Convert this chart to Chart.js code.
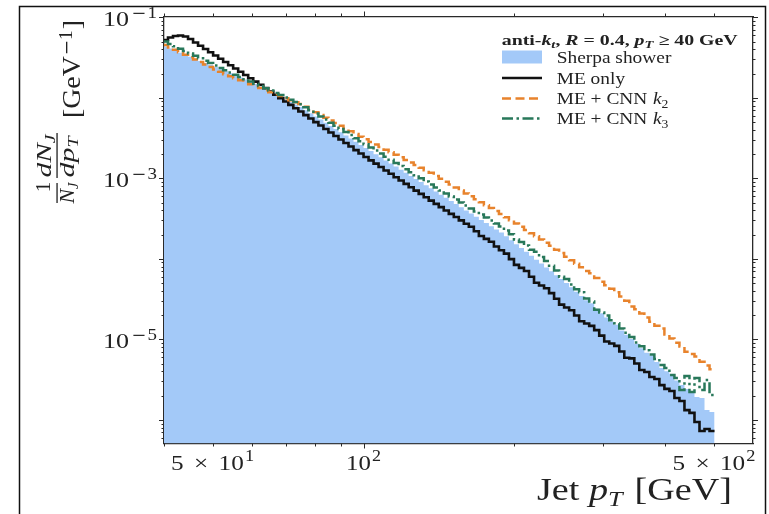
<!DOCTYPE html>
<html>
<head>
<meta charset="utf-8">
<script src="https://cdn.jsdelivr.net/npm/chart.js@4.4.1/dist/chart.umd.min.js"></script>
<style>
  html, body { margin: 0; padding: 0; background: #fff; overflow: hidden; }
  #wrap { width: 769px; height: 514px; position: relative; }
</style>
</head>
<body>
<div id="wrap"><canvas id="c" width="769" height="514"></canvas></div>
<script>
// Jet pT histogram bin edges [GeV] (logarithmic binning, 110 bins)
const binEdges = [
  39.81, 40.74, 41.69, 42.66, 43.65, 44.67, 45.71, 46.77, 47.86, 48.98,
  50.12, 51.29, 52.48, 53.70, 54.95, 56.23, 57.54, 58.88, 60.26, 61.66,
  63.10, 64.57, 66.07, 67.61, 69.18, 70.79, 72.44, 74.13, 75.86, 77.62,
  79.43, 81.28, 83.18, 85.11, 87.10, 89.13, 91.20, 93.33, 95.50, 97.72,
  100.00, 102.33, 104.71, 107.15, 109.65, 112.20, 114.82, 117.49, 120.23, 123.03,
  125.89, 128.82, 131.83, 134.90, 138.04, 141.25, 144.54, 147.91, 151.36, 154.88,
  158.49, 162.18, 165.96, 169.82, 173.78, 177.83, 181.97, 186.21, 190.55, 194.98,
  199.53, 204.17, 208.93, 213.80, 218.78, 223.87, 229.09, 234.42, 239.88, 245.47,
  251.19, 257.04, 263.03, 269.15, 275.42, 281.84, 288.40, 295.12, 301.99, 309.03,
  316.23, 323.59, 331.13, 338.84, 346.74, 354.81, 363.08, 371.54, 380.19, 389.05,
  398.11, 407.38, 416.87, 426.58, 436.52, 446.68, 457.09, 467.74, 478.63, 489.78,
  501.19
];

// 1/N_J dN_J/dpT [GeV^-1] per bin
const sherpaShower = [
  4.34e-2, 4.09e-2, 3.86e-2, 3.64e-2, 3.43e-2, 3.23e-2, 3.05e-2, 2.87e-2, 2.71e-2, 2.55e-2,
  2.41e-2, 2.27e-2, 2.14e-2, 2.02e-2, 1.90e-2, 1.79e-2, 1.69e-2, 1.59e-2, 1.48e-2, 1.38e-2,
  1.28e-2, 1.19e-2, 1.11e-2, 1.03e-2, 9.56e-3, 8.89e-3, 8.26e-3, 7.68e-3, 7.02e-3, 6.41e-3,
  5.86e-3, 5.36e-3, 4.89e-3, 4.47e-3, 4.09e-3, 3.74e-3, 3.41e-3, 3.12e-3, 2.85e-3, 2.60e-3,
  2.38e-3, 2.18e-3, 1.99e-3, 1.82e-3, 1.67e-3, 1.53e-3, 1.40e-3, 1.28e-3, 1.17e-3, 1.07e-3,
  9.81e-4, 8.97e-4, 8.21e-4, 7.52e-4, 6.87e-4, 6.27e-4, 5.73e-4, 5.24e-4, 4.78e-4, 4.37e-4,
  3.99e-4, 3.65e-4, 3.33e-4, 3.04e-4, 2.78e-4, 2.54e-4, 2.32e-4, 2.12e-4, 1.90e-4, 1.70e-4,
  1.52e-4, 1.36e-4, 1.22e-4, 1.09e-4, 9.75e-5, 8.73e-5, 7.81e-5, 6.99e-5, 6.26e-5, 5.60e-5,
  5.01e-5, 4.43e-5, 3.91e-5, 3.46e-5, 3.06e-5, 2.80e-5, 2.39e-5, 2.11e-5, 1.87e-5, 1.65e-5,
  1.52e-5, 1.29e-5, 1.14e-5, 1.01e-5, 8.84e-6, 7.76e-6, 6.80e-6, 6.30e-6, 5.23e-6, 4.40e-6,
  4.02e-6, 3.70e-6, 3.09e-6, 2.71e-6, 2.42e-6, 2.15e-6, 1.92e-6, 1.87e-6, 1.32e-6, 1.25e-6
];

const meOnly = [
  5.22e-2, 5.61e-2, 5.86e-2, 5.93e-2, 5.77e-2, 5.38e-2, 4.86e-2, 4.43e-2, 4.04e-2, 3.68e-2,
  3.35e-2, 3.06e-2, 2.78e-2, 2.54e-2, 2.31e-2, 2.11e-2, 1.92e-2, 1.75e-2, 1.59e-2, 1.45e-2,
  1.32e-2, 1.20e-2, 1.09e-2, 9.90e-3, 9.00e-3, 8.17e-3, 7.43e-3, 6.75e-3, 6.10e-3, 5.53e-3,
  4.99e-3, 4.52e-3, 4.09e-3, 3.70e-3, 3.35e-3, 3.03e-3, 2.74e-3, 2.48e-3, 2.24e-3, 2.03e-3,
  1.84e-3, 1.67e-3, 1.52e-3, 1.38e-3, 1.25e-3, 1.14e-3, 1.03e-3, 9.39e-4, 8.53e-4, 7.75e-4,
  7.04e-4, 6.40e-4, 5.82e-4, 5.28e-4, 4.81e-4, 4.38e-4, 3.98e-4, 3.62e-4, 3.30e-4, 3.00e-4,
  2.73e-4, 2.50e-4, 2.20e-4, 1.92e-4, 1.77e-4, 1.63e-4, 1.42e-4, 1.28e-4, 1.16e-4, 9.92e-5,
  8.40e-5, 7.71e-5, 7.05e-5, 5.99e-5, 5.05e-5, 4.66e-5, 4.30e-5, 3.75e-5, 3.19e-5, 2.70e-5,
  2.48e-5, 2.30e-5, 1.98e-5, 1.68e-5, 1.57e-5, 1.47e-5, 1.30e-5, 1.11e-5, 9.40e-6, 8.87e-6,
  8.30e-6, 7.05e-6, 5.90e-6, 5.80e-6, 5.00e-6, 4.16e-6, 3.93e-6, 3.40e-6, 3.21e-6, 2.70e-6,
  2.42e-6, 2.28e-6, 1.87e-6, 1.71e-6, 1.32e-6, 1.22e-6, 9.39e-7, 7.26e-7, 7.69e-7, 7.26e-7
];

const meCnnK2 = [
  4.53e-2, 4.22e-2, 3.94e-2, 3.67e-2, 3.42e-2, 3.19e-2, 2.98e-2, 2.78e-2, 2.59e-2, 2.42e-2,
  2.25e-2, 2.10e-2, 1.96e-2, 1.85e-2, 1.75e-2, 1.65e-2, 1.56e-2, 1.47e-2, 1.39e-2, 1.32e-2,
  1.24e-2, 1.17e-2, 1.11e-2, 1.05e-2, 9.90e-3, 9.35e-3, 8.83e-3, 8.35e-3, 7.72e-3, 7.14e-3,
  6.61e-3, 6.12e-3, 5.66e-3, 5.24e-3, 4.85e-3, 4.49e-3, 4.15e-3, 3.84e-3, 3.56e-3, 3.29e-3,
  3.05e-3, 2.83e-3, 2.63e-3, 2.44e-3, 2.27e-3, 2.11e-3, 1.96e-3, 1.82e-3, 1.69e-3, 1.57e-3,
  1.46e-3, 1.35e-3, 1.26e-3, 1.17e-3, 1.07e-3, 9.87e-4, 9.07e-4, 8.35e-4, 7.67e-4, 7.06e-4,
  6.49e-4, 5.97e-4, 5.49e-4, 5.05e-4, 4.64e-4, 4.27e-4, 3.92e-4, 3.61e-4, 3.29e-4, 3.01e-4,
  2.74e-4, 2.50e-4, 2.28e-4, 2.08e-4, 1.90e-4, 1.74e-4, 1.58e-4, 1.45e-4, 1.30e-4, 1.18e-4,
  1.06e-4, 9.61e-5, 8.67e-5, 7.83e-5, 7.07e-5, 6.60e-5, 5.76e-5, 5.20e-5, 4.70e-5, 4.24e-5,
  3.83e-5, 3.40e-5, 3.01e-5, 2.55e-5, 2.37e-5, 2.10e-5, 1.86e-5, 1.65e-5, 1.47e-5, 1.36e-5,
  1.15e-5, 1.02e-5, 9.06e-6, 8.13e-6, 7.00e-6, 6.55e-6, 6.10e-6, 5.27e-6, 4.73e-6, 4.24e-6
];

const meCnnK3 = [
  5.00e-2, 4.67e-2, 4.36e-2, 4.07e-2, 3.80e-2, 3.55e-2, 3.32e-2, 3.10e-2, 2.89e-2, 2.70e-2,
  2.52e-2, 2.35e-2, 2.20e-2, 2.06e-2, 1.93e-2, 1.81e-2, 1.70e-2, 1.59e-2, 1.49e-2, 1.40e-2,
  1.31e-2, 1.23e-2, 1.15e-2, 1.08e-2, 1.01e-2, 9.48e-3, 8.89e-3, 8.33e-3, 7.63e-3, 6.98e-3,
  6.39e-3, 5.85e-3, 5.36e-3, 4.90e-3, 4.49e-3, 4.11e-3, 3.76e-3, 3.44e-3, 3.15e-3, 2.89e-3,
  2.64e-3, 2.42e-3, 2.21e-3, 2.03e-3, 1.85e-3, 1.70e-3, 1.55e-3, 1.42e-3, 1.30e-3, 1.19e-3,
  1.09e-3, 9.99e-4, 9.14e-4, 8.37e-4, 7.68e-4, 7.05e-4, 6.47e-4, 5.94e-4, 5.45e-4, 5.00e-4,
  4.59e-4, 4.21e-4, 3.87e-4, 3.55e-4, 3.25e-4, 2.99e-4, 2.74e-4, 2.52e-4, 2.25e-4, 2.02e-4,
  1.74e-4, 1.62e-4, 1.46e-4, 1.30e-4, 1.22e-4, 1.05e-4, 9.39e-5, 8.21e-5, 7.18e-5, 6.00e-5,
  5.60e-5, 4.80e-5, 4.20e-5, 3.85e-5, 3.21e-5, 2.95e-5, 2.33e-5, 2.15e-5, 1.98e-5, 1.72e-5,
  1.58e-5, 1.36e-5, 1.21e-5, 1.07e-5, 9.10e-6, 8.20e-6, 7.30e-6, 6.50e-6, 5.70e-6, 4.79e-6,
  4.40e-6, 3.61e-6, 3.30e-6, 2.34e-6, 3.50e-6, 2.21e-6, 3.30e-6, 2.34e-6, 3.12e-6, 2.03e-6
];

// Axis tick labels
const xTickValues = [50, 100, 500];
const xTickMantissa = ['5', '', '5'];
const xTickExponent = ['1', '2', '2'];
const yTickValues = [1e-1, 1e-3, 1e-5];
const yTickExponent = ['1', '3', '5'];

// Legend text
const legendTitle = 'anti-k_t, R = 0.4, p_T ≥ 40 GeV';
const seriesNames = ['Sherpa shower', 'ME only', 'ME + CNN', 'ME + CNN'];
const seriesSubscript = ['', '', '2', '3'];

// ---------------------------------------------------------------------------
const X_MIN = 40, X_MAX = 598;
const Y_MIN = 5.08e-7, Y_MAX = 0.1023;

const SERIF = '"Liberation Serif", "Times New Roman", serif';
const f = (size, style) => (style ? style + ' ' : '') + size + 'px ' + SERIF;

// histogram outline: one point per left bin edge plus the closing edge
function toSteps(values) {
  const pts = values.map((v, i) => ({ x: binEdges[i], y: v }));
  pts.push({ x: binEdges[values.length], y: values[values.length - 1] });
  return pts;
}

function runsWidth(ctx, runs) {
  let w = 0;
  for (const r of runs) {
    ctx.font = r.font;
    w += (r.pre || 0) + ctx.measureText(r.text).width + (r.post || 0);
  }
  return w;
}

// draws a line of mixed-font text pieces; optional target width stretches it
function drawRuns(ctx, runs, x, y, align, target) {
  const nat = runsWidth(ctx, runs);
  const k = target ? target / nat : 1;
  const w = nat * k;
  const x0 = align === 'center' ? x - w / 2 : align === 'right' ? x - w : x;
  ctx.save();
  ctx.translate(x0, y);
  ctx.scale(k, 1);
  ctx.textAlign = 'left';
  ctx.textBaseline = 'alphabetic';
  let cx = 0;
  for (const r of runs) {
    ctx.font = r.font;
    cx += r.pre || 0;
    ctx.fillText(r.text, cx, r.dy || 0);
    cx += ctx.measureText(r.text).width + (r.post || 0);
  }
  ctx.restore();
}

const decorations = {
  id: 'decorations',
  afterDraw(chart) {
    const ctx = chart.ctx;
    const area = chart.chartArea;
    const sx = chart.scales.x, sy = chart.scales.y;

    // ---- tick marks on all four sides (outward) ----
    ctx.save();
    ctx.strokeStyle = '#2a2a2a';
    ctx.lineWidth = 1;
    const xMajor = [100];
    const xMinor = [];
    for (let d = 2; d <= 9; d++) { xMinor.push(d * 10); xMinor.push(d * 100); }
    const xt = xMajor.map(v => [v, 5]).concat(xMinor.map(v => [v, 3]))
      .filter(t => t[0] >= X_MIN && t[0] <= X_MAX);
    for (const [v, len] of xt) {
      const p = Math.round(sx.getPixelForValue(v)) + 0.5;
      ctx.beginPath();
      ctx.moveTo(p, area.bottom); ctx.lineTo(p, area.bottom + len);
      ctx.moveTo(p, area.top); ctx.lineTo(p, area.top - len);
      ctx.stroke();
    }
    const yt = [];
    for (let e = -7; e <= -1; e++) {
      yt.push([Math.pow(10, e), 5]);
      for (let d = 2; d <= 9; d++) yt.push([d * Math.pow(10, e), 2.5]);
    }
    for (const [v, len] of yt) {
      if (v < Y_MIN || v > Y_MAX) continue;
      const p = Math.round(sy.getPixelForValue(v)) + 0.5;
      ctx.beginPath();
      ctx.moveTo(area.left, p); ctx.lineTo(area.left - len, p);
      ctx.moveTo(area.right, p); ctx.lineTo(area.right + len, p);
      ctx.stroke();
    }
    ctx.restore();

    ctx.save();
    ctx.fillStyle = '#222';

    // ---- x tick labels ----
    xTickValues.forEach((v, i) => {
      const px = sx.getPixelForValue(v);
      const runs = [];
      if (xTickMantissa[i]) {
        runs.push({ text: xTickMantissa[i], font: f(22) });
        runs.push({ text: '×', font: f(22), pre: 9, post: 9 });
      }
      runs.push({ text: '10', font: f(22) });
      runs.push({ text: xTickExponent[i], font: f(16), dy: -9, pre: 1 });
      drawRuns(ctx, runs, px, 469.5, 'center', xTickMantissa[i] ? 83 : 35);
    });

    // ---- y tick labels ----
    yTickValues.forEach((v, i) => {
      const py = sy.getPixelForValue(v);
      const runs = [
        { text: '10', font: f(22) },
        { text: '−', font: '15px "DejaVu Serif", serif', dy: -8, pre: 2, post: 1 },
        { text: yTickExponent[i], font: f(16), dy: -8 }
      ];
      drawRuns(ctx, runs, 157, py + 8.5, 'right', 54);
    });

    // ---- x axis title ----
    drawRuns(ctx, [
      { text: 'Jet ', font: f(32) },
      { text: 'p', font: f(32, 'italic') },
      { text: 'T', font: f(22, 'italic'), dy: 6 },
      { text: ' [GeV]', font: f(32), pre: 2 }
    ], 732, 500, 'right', 195);

    // ---- y axis title (rotated, reads bottom to top) ----
    ctx.save();
    ctx.rotate(-Math.PI / 2);
    // local (u, v) maps to page (v, -u)
    drawRuns(ctx, [{ text: '1', font: f(21) }], -187, 50, 'center');
    drawRuns(ctx, [
      { text: 'N', font: f(21, 'italic') },
      { text: 'J', font: f(14, 'italic'), dy: 4 }
    ], -193, 74, 'center', 21);
    drawRuns(ctx, [
      { text: 'dN', font: f(21, 'italic') },
      { text: 'J', font: f(14, 'italic'), dy: 4 }
    ], -156, 50.5, 'center', 43);
    drawRuns(ctx, [
      { text: 'dp', font: f(21, 'italic') },
      { text: 'T', font: f(14, 'italic'), dy: 4 }
    ], -157, 74, 'center', 41);
    drawRuns(ctx, [
      { text: '[GeV', font: f(26) },
      { text: '−', font: '17px "DejaVu Serif", serif', dy: -8, pre: 1 },
      { text: '1', font: f(18), dy: -8 },
      { text: ']', font: f(26), pre: 1 }
    ], -118, 80, 'left', 98);
    ctx.restore();
    // fraction bars
    ctx.fillRect(56.4, 183, 1.3, 20);
    ctx.fillRect(56.4, 133, 1.3, 45);

    // ---- legend ----
    const tParts = legendTitle.split(/(k_t|R|p_T)/).filter(s => s.length);
    const tRuns = [];
    for (const part of tParts) {
      if (part === 'k_t') {
        tRuns.push({ text: 'k', font: f(15, 'italic bold') });
        tRuns.push({ text: 't', font: f(11, 'italic bold'), dy: 3 });
      } else if (part === 'p_T') {
        tRuns.push({ text: 'p', font: f(15, 'italic bold') });
        tRuns.push({ text: 'T', font: f(11, 'italic bold'), dy: 3 });
      } else if (part === 'R') {
        tRuns.push({ text: 'R', font: f(15, 'italic bold') });
      } else {
        tRuns.push({ text: part, font: f(15, 'bold') });
      }
    }
    drawRuns(ctx, tRuns, 501.7, 44.5, 'left', 236);

    const rows = [57, 78, 98.5, 118.5];
    const ds = chart.data.datasets;
    rows.forEach((cy, i) => {
      const d = ds[i];
      ctx.save();
      if (i === 0) {
        ctx.fillStyle = d.backgroundColor;
        ctx.fillRect(502, cy - 6.5, 40, 13);
      } else {
        ctx.strokeStyle = d.borderColor;
        ctx.lineWidth = d.borderWidth;
        ctx.setLineDash(d.borderDash || []);
        ctx.beginPath();
        ctx.moveTo(502, cy);
        ctx.lineTo(542, cy);
        ctx.stroke();
      }
      ctx.restore();
      const runs = [{ text: seriesNames[i], font: f(17) }];
      if (seriesSubscript[i]) {
        runs.push({ text: 'k', font: f(17, 'italic'), pre: 5 });
        runs.push({ text: seriesSubscript[i], font: f(12), dy: 4 });
      }
      drawRuns(ctx, runs, 556.7, cy + 5.5, 'left', runsWidth(ctx, runs) * 1.14);
    });
    ctx.restore();

    // ---- figure frame ----
    ctx.save();
    ctx.strokeStyle = '#111';
    ctx.lineWidth = 1.5;
    ctx.strokeRect(19.5, 6.5, 746, 540);
    ctx.restore();
  }
};

const axisBase = (pos, min, max, fitFn) => ({
  type: 'logarithmic',
  position: pos,
  min: min,
  max: max,
  bounds: 'data',
  display: true,
  z: 1,
  ticks: { display: false },
  grid: { display: false, drawTicks: false },
  border: { display: true, color: '#2a2a2a', width: 1.3 },
  afterFit: fitFn
});

new Chart(document.getElementById('c'), {
  type: 'line',
  data: {
    datasets: [
      {
        label: 'Sherpa shower',
        data: toSteps(sherpaShower),
        stepped: true,
        fill: 'start',
        backgroundColor: '#a3c9f8',
        borderColor: 'rgba(0,0,0,0)',
        borderWidth: 0,
        pointRadius: 0,
        order: 4
      },
      {
        label: 'ME only',
        data: toSteps(meOnly),
        stepped: true,
        fill: false,
        borderColor: '#111111',
        borderWidth: 2.6,
        pointRadius: 0,
        order: 3
      },
      {
        label: 'ME + CNN k2',
        data: toSteps(meCnnK2),
        stepped: true,
        fill: false,
        borderColor: '#e8832c',
        borderWidth: 2.5,
        borderDash: [9, 4.5],
        pointRadius: 0,
        order: 2
      },
      {
        label: 'ME + CNN k3',
        data: toSteps(meCnnK3),
        stepped: true,
        fill: false,
        borderColor: '#28785a',
        borderWidth: 2.5,
        borderDash: [11, 3.5, 2.5, 3.5],
        pointRadius: 0,
        order: 1
      }
    ]
  },
  options: {
    responsive: false,
    animation: false,
    devicePixelRatio: 1,
    layout: { padding: 0 },
    plugins: { legend: { display: false }, tooltip: { enabled: false } },
    scales: {
      x: axisBase('bottom', X_MIN, X_MAX, s => { s.height = 70.5; }),
      x2: axisBase('top', X_MIN, X_MAX, s => { s.height = 16.5; }),
      y: axisBase('left', Y_MIN, Y_MAX, s => { s.width = 164; }),
      y2: axisBase('right', Y_MIN, Y_MAX, s => { s.width = 16; })
    }
  },
  plugins: [decorations]
});
</script>
</body>
</html>
